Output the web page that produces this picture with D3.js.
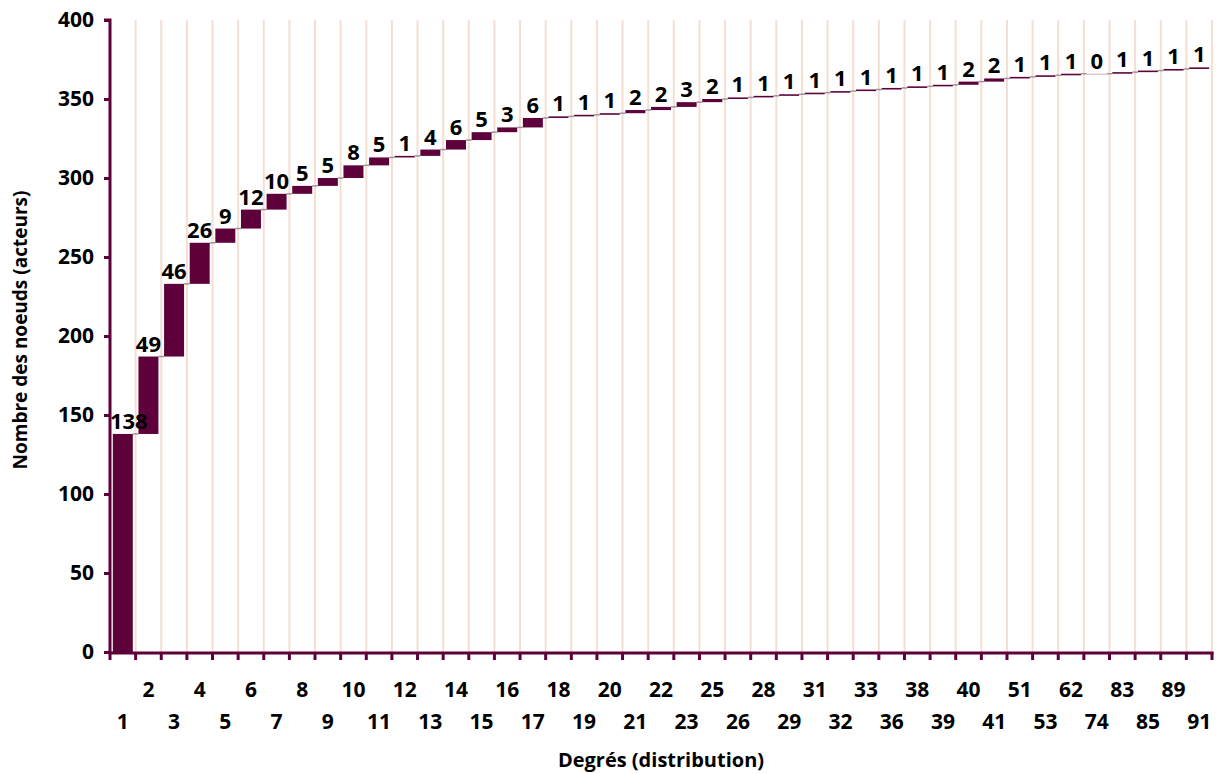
<!DOCTYPE html>
<html>
<head>
<meta charset="utf-8">
<script src="https://cdn.jsdelivr.net/npm/d3@7"></script>
<style>
  body { margin: 0; background: #fff; }
  svg { display: block; font-family: 'Open Sans', 'DejaVu Sans', sans-serif; }
</style>
</head>
<body>
<svg id="chart" width="1219" height="774"></svg>
<script>
// degree categories (x axis) and number of nodes per degree
const degrees = [1, 2, 3, 4, 5, 6, 7, 8, 9, 10, 11, 12, 13, 14, 15, 16, 17, 18, 19, 20, 21, 22, 23,
  25, 26, 28, 29, 31, 32, 33, 36, 38, 39, 40, 41, 51, 53, 62, 74, 83, 85, 89, 91]
const counts = [138, 49, 46, 26, 9, 12, 10, 5, 5, 8, 5, 1, 4, 6, 5, 3, 6, 1, 1, 1, 2, 2, 3,
  2, 1, 1, 1, 1, 1, 1, 1, 1, 1, 2, 2, 1, 1, 1, 0, 1, 1, 1, 1]
const yTicks = [0, 50, 100, 150, 200, 250, 300, 350, 400]

const maroon = '#5e0039'
const gridColor = '#f5ded2'

const svg = d3.select('#chart')
const plotLeft = 110, plotRight = 1212, plotTop = 20, plotBottom = 652

// cumulative start / end of each step
let run = 0
const steps = degrees.map((d, i) => {
  const start = run
  run += counts[i]
  return { key: String(d), value: counts[i], start: start, end: run, i: i }
})

const x = d3.scaleBand()
  .domain(steps.map(d => d.key))
  .range([plotLeft, plotRight])
  .paddingInner(0.22)
  .paddingOuter(0.11)

const step = x.step()
const cellLeft = k => x(k) - step * 0.11

const y = d3.scaleLinear().domain([0, 400]).range([plotBottom, plotTop])

// vertical gridlines on category boundaries
const bounds = d3.range(degrees.length + 1).map(i => plotLeft + i * step)
svg.append('g')
  .selectAll('line')
  .data(bounds.slice(1))
  .join('line')
  .attr('x1', d => d)
  .attr('x2', d => d)
  .attr('y1', plotTop)
  .attr('y2', plotBottom)
  .attr('stroke', gridColor)
  .attr('stroke-width', 2)

// connectors between steps
svg.append('g')
  .selectAll('line')
  .data(steps.slice(0, -1))
  .join('line')
  .attr('x1', d => x(d.key) + x.bandwidth())
  .attr('x2', d => x(steps[d.i + 1].key))
  .attr('y1', d => y(d.end))
  .attr('y2', d => y(d.end))
  .attr('stroke', '#999')
  .attr('stroke-width', 1.5)

// bars
svg.append('g')
  .selectAll('rect')
  .data(steps)
  .join('rect')
  .attr('x', d => x(d.key))
  .attr('width', x.bandwidth())
  .attr('y', d => y(d.end))
  .attr('height', d => Math.max(y(d.start) - y(d.end), d.value === 0 ? 1 : 0))
  .attr('fill', d => (d.value === 0 ? '#d7a9c2' : maroon))

// value labels
svg.append('g')
  .selectAll('text')
  .data(steps)
  .join('text')
  .attr('x', d => cellLeft(d.key) + step / 2 + (d.i === 0 ? 6 : 0))
  .attr('y', d => y(d.end) - 5)
  .attr('text-anchor', 'middle')
  .attr('font-size', 22)
  .attr('font-weight', 700)
  .attr('fill', '#000')
  .text(d => d.value)

// y axis
const yAxis = d3.axisLeft(y).tickValues(yTicks).tickSize(6).tickPadding(10)
const gy = svg.append('g').attr('transform', `translate(${plotLeft},0)`).call(yAxis)
gy.select('.domain').attr('stroke', maroon).attr('stroke-width', 3)
  .attr('d', `M-6,${plotTop}H0V${plotBottom}`)
gy.selectAll('.tick line').attr('stroke', maroon).attr('stroke-width', 3)
gy.selectAll('.tick text')
  .attr('font-size', 21)
  .attr('font-weight', 700)
  .attr('fill', '#000')
  .attr('font-family', "'Open Sans', sans-serif")

// x axis line and ticks on boundaries
svg.append('line')
  .attr('x1', plotLeft - 1.5)
  .attr('x2', plotRight + 1.5)
  .attr('y1', plotBottom + 1)
  .attr('y2', plotBottom + 1)
  .attr('stroke', maroon)
  .attr('stroke-width', 3)
svg.append('g')
  .selectAll('line')
  .data(bounds)
  .join('line')
  .attr('x1', d => d)
  .attr('x2', d => d)
  .attr('y1', plotBottom)
  .attr('y2', plotBottom + 8)
  .attr('stroke', maroon)
  .attr('stroke-width', 3)

// x tick labels, staggered in two rows
svg.append('g')
  .selectAll('text')
  .data(steps)
  .join('text')
  .attr('x', d => cellLeft(d.key) + step / 2)
  .attr('y', d => (d.i % 2 === 1 ? 697 : 729))
  .attr('text-anchor', 'middle')
  .attr('font-size', 21)
  .attr('font-weight', 700)
  .attr('fill', '#000')
  .text(d => d.key)

// axis titles
svg.append('text')
  .attr('x', 661)
  .attr('y', 767)
  .attr('text-anchor', 'middle')
  .attr('font-size', 20)
  .attr('font-weight', 700)
  .text('Degrés (distribution)')

svg.append('text')
  .attr('transform', 'translate(27,330) rotate(-90)')
  .attr('text-anchor', 'middle')
  .attr('font-size', 19)
  .attr('font-weight', 700)
  .text('Nombre des noeuds (acteurs)')
</script>
</body>
</html>
